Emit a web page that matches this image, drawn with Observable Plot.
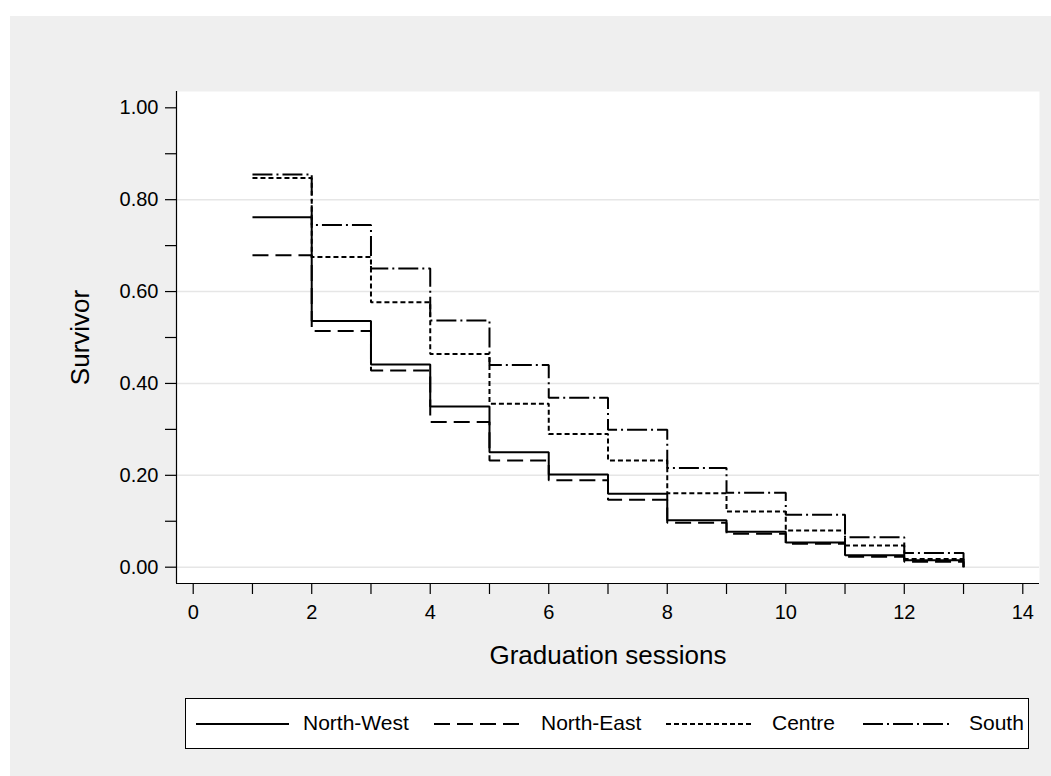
<!DOCTYPE html>
<html>
<head>
<meta charset="utf-8">
<script src="https://cdn.jsdelivr.net/npm/d3@7"></script>
<script src="https://cdn.jsdelivr.net/npm/@observablehq/plot@0.6"></script>
<style>
  html, body { margin: 0; padding: 0; background: #ffffff; width: 1051px; height: 776px; overflow: hidden; font-family: "Liberation Sans", Arial, sans-serif; }
  #panel { position: absolute; left: 10px; top: 16px; right: 0; bottom: 0; background: #efefef; }
  #chart { position: absolute; left: 0; top: 0; }
  #legend { position: absolute; left: 185px; top: 698px; width: 842px; height: 49px; border: 1px solid #000; background: #fff; }
  #legend .key { position: absolute; top: 0; }
  #legend .lab { position: absolute; top: 12px; font-size: 21px; line-height: 24px; color: #000; white-space: nowrap; }
</style>
</head>
<body>
<div id="panel"></div>
<div id="chart"></div>
<div id="legend"></div>
<script>
// ---- data ----
const sessions = [1, 2, 3, 4, 5, 6, 7, 8, 9, 10, 11, 12];
const northWest = [0.762, 0.536, 0.441, 0.350, 0.250, 0.202, 0.160, 0.102, 0.077, 0.054, 0.026, 0.015];
const northEast = [0.679, 0.514, 0.428, 0.316, 0.232, 0.189, 0.147, 0.097, 0.073, 0.051, 0.023, 0.012];
const centre    = [0.847, 0.675, 0.577, 0.464, 0.356, 0.290, 0.232, 0.161, 0.121, 0.080, 0.047, 0.018];
const south     = [0.855, 0.745, 0.650, 0.537, 0.440, 0.369, 0.299, 0.216, 0.162, 0.114, 0.065, 0.031];
const endSession = 13;
const endValue = 0;
const regionNames = ["North-West", "North-East", "Centre", "South"];
const xTicks = [0, 1, 2, 3, 4, 5, 6, 7, 8, 9, 10, 11, 12, 13, 14];
const yTicks = [0, 0.1, 0.2, 0.3, 0.4, 0.5, 0.6, 0.7, 0.8, 0.9, 1.0];
const yGrid = [0, 0.2, 0.4, 0.6, 0.8];
const xTitle = "Graduation sessions";
const yTitle = "Survivor";

// ---- build table ----
const seriesValues = [northWest, northEast, centre, south];
const rows = [];
regionNames.forEach((name, i) => {
  sessions.forEach((s, j) => rows.push({region: name, session: s, survivor: seriesValues[i][j]}));
  rows.push({region: name, session: endSession, survivor: endValue});
});

const dashes = {
  "North-West": null,
  "North-East": "16,7",
  "Centre": "5,3",
  "South": "20,4,2,4"
};

const xDomain = [-0.282, 14.282];
const yDomain = [-0.0355, 1.0355];
const font = "'Liberation Sans', Arial, sans-serif";

const chart = Plot.plot({
  width: 1051,
  height: 776,
  marginLeft: 176,
  marginRight: 12,
  marginTop: 91,
  marginBottom: 193,
  style: {background: "transparent", fontFamily: font, color: "#000", overflow: "visible"},
  x: {domain: xDomain},
  y: {domain: yDomain},
  marks: [
    Plot.frame({fill: "#ffffff", stroke: null}),
    Plot.gridY(yGrid, {stroke: "#e6e6e6", strokeOpacity: 1, strokeWidth: 1.6}),
    Plot.ruleX([xDomain[0]], {stroke: "#000", strokeWidth: 1.2}),
    Plot.ruleY([yDomain[0]], {stroke: "#000", strokeWidth: 1.2}),
    Plot.axisX(xTicks, {tickSize: 11, tickPadding: 10, fontSize: 20, label: null,
      tickFormat: d => d % 2 === 0 ? String(d) : "", stroke: "#000", strokeWidth: 1.2}),
    Plot.axisY(yTicks, {tickSize: 11, tickPadding: 7, fontSize: 20, label: null,
      tickFormat: d => Math.round(d * 10) % 2 === 0 ? d3.format(".2f")(d) : "", stroke: "#000", strokeWidth: 1.2}),
    ...regionNames.map(name => Plot.line(rows.filter(r => r.region === name), {
      x: "session", y: "survivor", curve: "step-after",
      stroke: "#000", strokeWidth: 2, strokeDasharray: dashes[name], strokeLinecap: "butt", strokeLinejoin: "miter"
    })),
    Plot.text([yTitle], {frameAnchor: "left", dx: -96, rotate: -90, textAnchor: "middle", lineAnchor: "middle", fontSize: 26, fill: "#000"}),
    Plot.text([xTitle], {frameAnchor: "bottom", dy: 72, textAnchor: "middle", lineAnchor: "middle", fontSize: 26, fill: "#000"})
  ]
});
document.getElementById("chart").appendChild(chart);

// ---- legend ----
const legend = document.getElementById("legend");
const keyPos = [[10, 103], [248, 333], [480, 568], [677, 765]];
const labPos = [117, 355, 586, 783];
regionNames.forEach((name, i) => {
  const [x0, x1] = keyPos[i];
  const svg = d3.create("svg").attr("class", "key")
    .attr("width", x1 - x0).attr("height", 49)
    .style("left", x0 + "px");
  svg.append("line").attr("x1", 0).attr("x2", x1 - x0).attr("y1", 25).attr("y2", 25)
    .attr("stroke", "#000").attr("stroke-width", 2)
    .attr("stroke-dasharray", dashes[name]);
  legend.appendChild(svg.node());
  const lab = document.createElement("div");
  lab.className = "lab";
  lab.style.left = labPos[i] + "px";
  lab.textContent = name;
  legend.appendChild(lab);
});
</script>
</body>
</html>
